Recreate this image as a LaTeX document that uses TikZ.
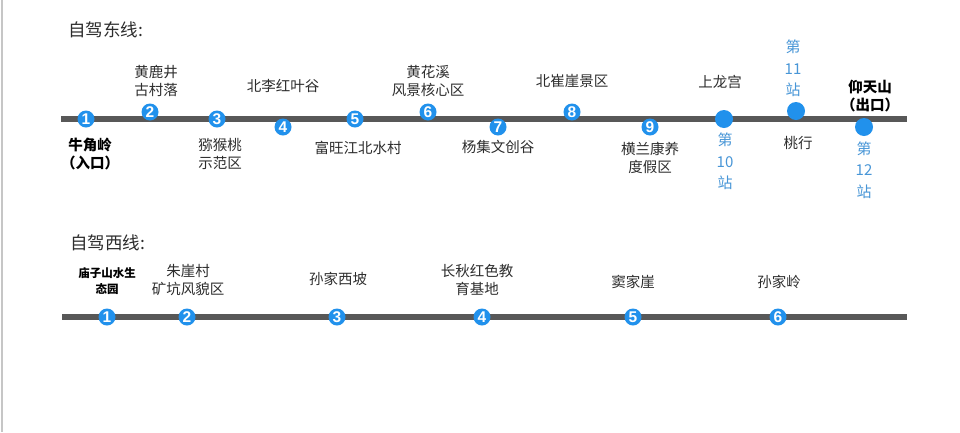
\documentclass[tikz,border=0pt]{standalone}
\usepackage{fontspec}
\setmainfont{Noto Sans CJK SC}
\newfontfamily\numfont{Liberation Sans}
\usepackage{tikz}
\usetikzlibrary{positioning}
\definecolor{stopblue}{RGB}{33,145,236}
\definecolor{stationblue}{RGB}{72,150,215}
\definecolor{linegray}{RGB}{88,88,88}
\definecolor{textgray}{RGB}{45,45,45}
\tikzset {
	stop/.style={circle, fill=stopblue, text=white, minimum size=17pt, inner sep=0pt,
					font=\numfont\bfseries\fontsize{15.5}{15.5}\selectfont},
	station/.style={circle, fill=stopblue, minimum size=18pt, inner sep=0pt},
	place/.style={align=center, text=textgray, inner sep=0pt, font=\fontsize{14.5}{18}\selectfont},
	gate/.style={place, text=black, font=\bfseries\fontsize{14.5}{18}\selectfont},
	smallgate/.style={place, text=black, font=\bfseries\fontsize{11.5}{16}\selectfont},
	stationText/.style={align=center, text=stationblue, inner sep=0pt, font=\fontsize{15}{21.5}\selectfont},
	route/.style={draw=linegray, line width=6pt},
	heading/.style={anchor=west, text=textgray, inner sep=0pt, font=\fontsize{17.5}{17.5}\selectfont}
}

\begin{document}
\begin{tikzpicture}[x=1pt, y=-1pt]
					\fill[white] (0,0) rectangle (960,432);
					\useasboundingbox (0,0) rectangle (960,432);
					\draw[gray!45, line width=1.5pt] (2,0) -- (2,432);
					% east line
					\node[heading] (eastTitle) at (68,30) {自驾东线:};
					\coordinate (eastStart) at (61,119);
					\coordinate (eastEnd) at (907,119);
					\draw[route] (eastStart) -- (eastEnd);
					\foreach \n/\x/\y in {1/86/119, 2/150/112, 3/217/119, 4/283/127, 5/355/119,
						6/428/112, 7/498/127, 8/572/112, 9/650/127}
						\node[stop] (e\n) at (\x,\y) {\n};
					\node[station] (e10) at (724,119) {};
					\node[station] (e11) at (796,111) {};
					\node[station] (e12) at (864,127) {};
					\node[gate] (eName1) at (90,153.5) {牛角岭\\（入口）};
					\node[place] (eName2) at (156,81) {黄鹿井\\古村落};
					\node[place] (eName3) at (220,154) {猕猴桃\\示范区};
					\node[place] (eName4) at (283,86) {北李红叶谷};
					\node[place] (eName5) at (358,147.5) {富旺江北水村};
					\node[place] (eName6) at (428,81) {黄花溪\\风景核心区};
					\node[place] (eName7) at (498,147) {杨集文创谷};
					\node[place] (eName8) at (572,81) {北崔崖景区};
					\node[place] (eName9) at (650,157.5) {横兰康养\\度假区};
					\node[place] (eName10) at (720,82) {上龙宫};
					\node[stationText] (eNum10) at (725,161.5) {第\\10\\站};
					\node[stationText] (eNum11) at (793,68.5) {第\\11\\站};
					\node[place] (eName11) at (798,143) {桃行};
					\node[gate] (eName12) at (870,96.5) {仰天山\\（出口）};
					\node[stationText] (eNum12) at (864,170) {第\\12\\站};
					% west line
					\node[heading] (westTitle) at (70,243) {自驾西线:};
					\coordinate (westStart) at (62,317);
					\coordinate (westEnd) at (907,317);
					\draw[route] (westStart) -- (westEnd);
					\foreach \n/\x in {1/107, 2/187, 3/337, 4/482, 5/633, 6/778}
						\node[stop] (w\n) at (\x,317) {\n};
					\node[smallgate] (wName1) at (107,281) {庙子山水生\\态园};
					\node[place] (wName2) at (188,280) {朱崖村\\矿坑风貌区};
					\node[place] (wName3) at (338,279) {孙家西坡};
					\node[place] (wName4) at (477,280) {长秋红色教\\育基地};
					\node[place] (wName5) at (633,282) {窦家崖};
					\node[place] (wName6) at (779,282) {孙家岭};
					\end{tikzpicture}
\end{document}
